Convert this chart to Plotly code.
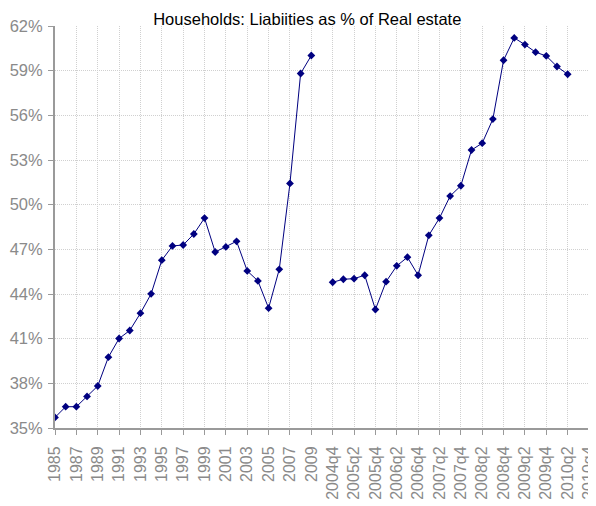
import plotly.graph_objects as go

years = [str(y) for y in range(1985, 2010)]
year_values = [35.71, 36.43, 36.43, 37.12, 37.82, 39.76, 41.01, 41.55, 42.71, 44.01,
               46.27, 47.23, 47.29, 48.03, 49.10, 46.82, 47.16, 47.54, 45.55, 44.88,
               43.05, 45.66, 51.43, 58.81, 60.02]

quarters = ["2004q3", "2004q4",
            "2005q1", "2005q2", "2005q3", "2005q4",
            "2006q1", "2006q2", "2006q3", "2006q4",
            "2007q1", "2007q2", "2007q3", "2007q4",
            "2008q1", "2008q2", "2008q3", "2008q4",
            "2009q1", "2009q2", "2009q3", "2009q4",
            "2010q1", "2010q2", "2010q3", "2010q4"]
quarter_values = [None, 44.79,
                  44.99, 45.03, 45.26, 42.96,
                  44.83, 45.89, 46.47, 45.26,
                  47.94, 49.10, 50.58, 51.27,
                  53.67, 54.13, 55.75, 59.70,
                  61.20, 60.75, 60.24, 59.99,
                  59.28, 58.76, None, None]

categories = years + quarters
values = year_values + quarter_values
y_ticks = [35, 38, 41, 44, 47, 50, 53, 56, 59, 62]

title_text = "Households: Liabiities as % of Real estate"

fig = go.Figure()
fig.add_trace(go.Scatter(
    x=categories, y=[v / 100 if v is not None else None for v in values],
    mode="lines+markers",
    line=dict(color="#000080", width=1),
    marker=dict(symbol="diamond", size=6, color="#000080"),
    connectgaps=False,
    showlegend=False,
))

tick_cats = categories[::2]

fig.update_layout(
    width=588, height=498,
    margin=dict(l=47, r=7, t=18, b=78),
    paper_bgcolor="white", plot_bgcolor="white",
    font=dict(family="Liberation Sans, Arial, sans-serif"),
    title=dict(text=title_text, x=0.509, xanchor="center", y=0.99, yanchor="top",
               font=dict(size=16.5, color="black")),
    xaxis=dict(
        type="category", categoryorder="array", categoryarray=categories,
        range=[0, len(categories) - 1],
        tickmode="array", tickvals=tick_cats, ticktext=tick_cats,
        tickangle=-90, tickfont=dict(size=16, color="#8a8a8a"),
        ticklabelstandoff=5,
        showgrid=True, gridcolor="#d0d0d0", griddash="1px,1px", gridwidth=1,
        showline=True, linecolor="#9a9a9a", linewidth=2,
        ticks="outside", ticklen=5, tickcolor="#9a9a9a",
        zeroline=False, automargin=False,
    ),
    yaxis=dict(
        range=[0.35, 0.62],
        tickmode="array", tickvals=[t / 100 for t in y_ticks],
        ticktext=[f"{t}%" for t in y_ticks],
        tickfont=dict(size=16.5, color="#8a8a8a"),
        ticklabelstandoff=2,
        showgrid=True, gridcolor="#d0d0d0", griddash="1px,1px", gridwidth=1,
        showline=True, linecolor="#9a9a9a", linewidth=2,
        ticks="outside", ticklen=5, tickcolor="#9a9a9a",
        zeroline=False, automargin=False,
    ),
)

fig.write_html("out.html")
